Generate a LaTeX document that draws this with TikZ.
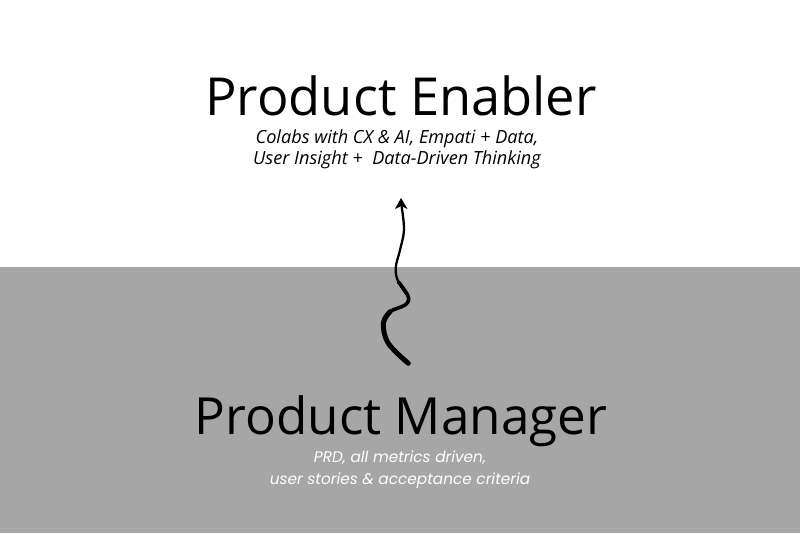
\documentclass[tikz,border=0pt]{standalone}
\usepackage{fontspec}
\setmainfont{Open Sans}
\newfontfamily\subfont{Open Sans}
\newfontfamily\subfontb{Poppins}
\definecolor{bggray}{HTML}{A6A6A6}
\begin{document}
\begin{tikzpicture}[x=0.75pt,y=-0.75pt,
  title/.style={inner sep=0pt,anchor=base,font=\fontsize{39}{39}\selectfont},
  subtxt/.style={inner sep=0pt,anchor=base,align=center,font=\subfont\itshape\fontsize{13.6}{15.75}\selectfont},
  subtxtb/.style={inner sep=0pt,anchor=base,align=center,text=white,font=\subfontb\itshape\fontsize{11.5}{16.5}\selectfont}]
\useasboundingbox (0,0) rectangle (800,533);
\fill[white] (0,0) rectangle (800,267);
\fill[bggray] (0,267) rectangle (800,533);
\node[title,font=\fontsize{39.3}{39}\selectfont] (pe) at (401,115) {Product Enabler};
\node[subtxt] (pes) at (397,164) {Colabs with CX \& AI, Empati + Data,\\User Insight +\ \ Data-Driven Thinking};
\node[title,font=\fontsize{38.4}{39}\selectfont] (pm) at (401,434) {Product Manager};
\node[subtxtb] (pms) at (400,484) {PRD, all metrics driven,\\user stories \& acceptance criteria};
% arrow
\coordinate (a0) at (408.3,363.3);
\coordinate (a1) at (388.3,343.3);
\coordinate (a2) at (383.3,323.3);
\coordinate (a3) at (390,311.7);
\coordinate (a4) at (405,305);
\coordinate (a5) at (408.3,296.7);
\coordinate (a6) at (398.3,281.7);
\coordinate (a7) at (395.7,268);
\coordinate (a8) at (400,250);
\coordinate (a9) at (404,230);
\coordinate (a10) at (401.7,207);
\draw[line width=3.7pt,line cap=round] plot[smooth,tension=0.6] coordinates {(a0) (a1) (a2) (a3)};
\draw[line width=2.7pt,line cap=round] plot[smooth,tension=0.6] coordinates {(a2) (a3) (a4) (a5) (a6)};
\draw[line width=1.7pt,line cap=round] plot[smooth,tension=0.6] coordinates {(a5) (a6) (a7) (a8) (a9) (a10)};
\fill (401,198) -- (407.5,209) -- (401.5,206) -- (395,209) -- cycle;
\end{tikzpicture}
\end{document}
